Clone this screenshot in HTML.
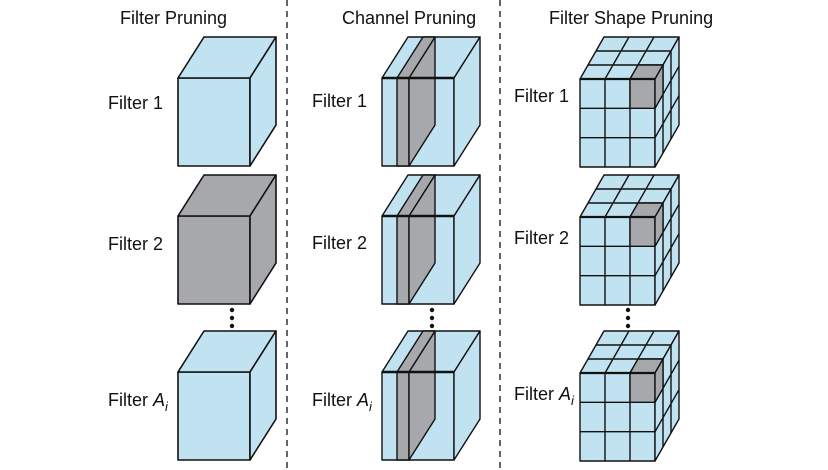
<!DOCTYPE html>
<html><head><meta charset="utf-8"><style>
html,body{margin:0;padding:0;background:#fff;}
svg{display:block;}
text{font-family:"Liberation Sans",sans-serif;font-size:18px;fill:#111;}
</style></head><body>
<svg width="828" height="470" viewBox="0 0 828 470" xmlns="http://www.w3.org/2000/svg">
<defs>
<g id="cube" stroke="#111" stroke-width="1.6" stroke-linejoin="round">
  <rect x="0" y="0" width="72" height="88"/>
  <polygon points="0,0 26,-41 98,-41 72,0"/>
  <polygon points="72,0 98,-41 98,47 72,88"/>
</g>
<g id="chan" stroke="#111" stroke-width="1.4" stroke-linejoin="round">
  <rect x="0" y="0" width="72" height="88" fill="#c1e3f1"/>
  <polygon points="0,0 26,-41 98,-41 72,0" fill="#c1e3f1"/>
  <polygon points="72,0 98,-41 98,47 72,88" fill="#c1e3f1"/>
  <rect x="15" y="0" width="12" height="88" fill="#a7a8ab"/>
  <polygon points="27,0 53,-41 53,47 27,88" fill="#a7a8ab"/>
  <polygon points="15,0 41,-41 53,-41 27,0" fill="#a7a8ab"/>
  <line x1="0" y1="0" x2="72" y2="0" stroke-width="2.4"/>
</g>
<g id="shape" stroke="#111" stroke-width="1.4" stroke-linejoin="round" fill="#c1e3f1">
  <rect x="0" y="0" width="75" height="88"/>
  <polygon points="0,0 24,-42 99,-42 75,0"/>
  <polygon points="75,0 99,-42 99,46 75,88"/>
  <path d="M25,0V88M50,0V88M0,29.3H75M0,58.7H75" fill="none"/>
  <path d="M8,-14H83M16,-28H91M25,0L49,-42M50,0L74,-42" fill="none"/>
  <path d="M83,-14V74M91,-28V60M75,29.3L99,-12.7M75,58.7L99,16.7" fill="none"/>
  <rect x="50" y="0" width="25" height="29.3" fill="#a7a8ab"/>
  <polygon points="50,0 58,-14 83,-14 75,0" fill="#a7a8ab"/>
  <polygon points="75,0 83,-14 83,15.3 75,29.3" fill="#a7a8ab"/>
  <line x1="0" y1="0" x2="75" y2="0" stroke-width="2.2"/>
</g>
</defs>

<g stroke="#222" stroke-width="1.4" stroke-dasharray="6,5">
  <line x1="287" y1="0" x2="287" y2="470"/>
  <line x1="500" y1="0" x2="500" y2="470"/>
</g>

<text x="120" y="24">Filter Pruning</text>
<text x="342" y="24">Channel Pruning</text>
<text x="549" y="24">Filter Shape Pruning</text>

<use href="#cube" x="178" y="78" fill="#c1e3f1"/>
<use href="#cube" x="178" y="216" fill="#a7a8ab"/>
<use href="#cube" x="178" y="372" fill="#c1e3f1"/>

<use href="#chan" x="382" y="78"/>
<use href="#chan" x="382" y="216"/>
<use href="#chan" x="382" y="372"/>

<use href="#shape" x="580" y="79"/>
<use href="#shape" x="580" y="217"/>
<use href="#shape" x="580" y="373"/>

<g fill="#111">
  <circle cx="232" cy="310" r="2.2"/><circle cx="232" cy="318" r="2.2"/><circle cx="232" cy="326" r="2.2"/>
  <circle cx="432" cy="310" r="2.2"/><circle cx="432" cy="318" r="2.2"/><circle cx="432" cy="326" r="2.2"/>
  <circle cx="628" cy="310" r="2.2"/><circle cx="628" cy="318" r="2.2"/><circle cx="628" cy="326" r="2.2"/>
</g>

<text x="108" y="109">Filter 1</text>
<text x="108" y="250">Filter 2</text>
<text x="108" y="406">Filter <tspan font-style="italic">A</tspan><tspan font-style="italic" font-size="13" dy="5">i</tspan></text>

<text x="312" y="107">Filter 1</text>
<text x="312" y="249">Filter 2</text>
<text x="312" y="406">Filter <tspan font-style="italic">A</tspan><tspan font-style="italic" font-size="13" dy="5">i</tspan></text>

<text x="514" y="102">Filter 1</text>
<text x="514" y="244">Filter 2</text>
<text x="514" y="400">Filter <tspan font-style="italic">A</tspan><tspan font-style="italic" font-size="13" dy="5">i</tspan></text>
</svg>
</body></html>
